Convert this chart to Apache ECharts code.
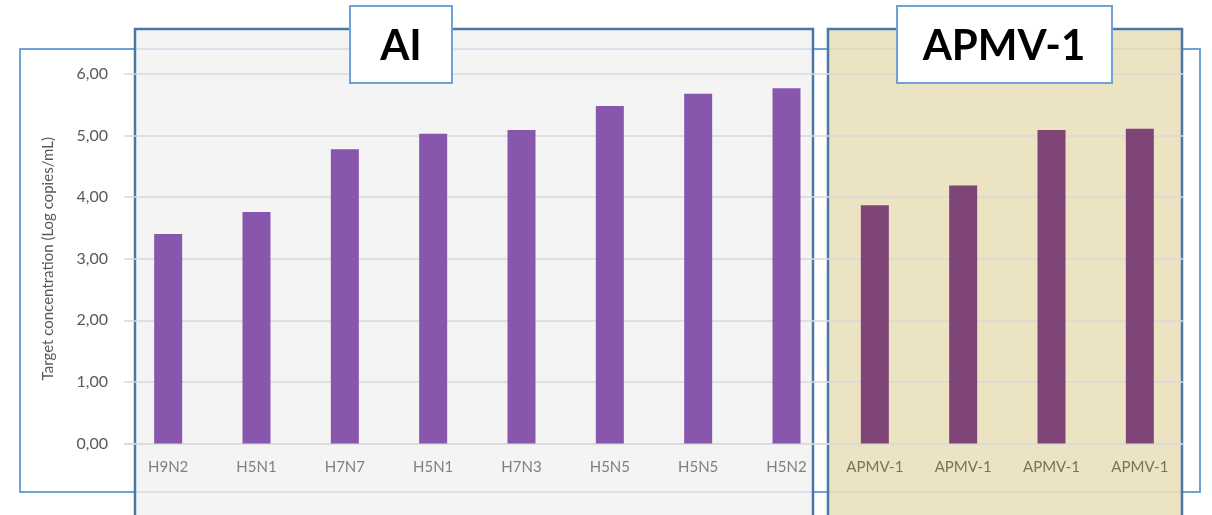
<!DOCTYPE html>
<html>
<head>
<meta charset="utf-8">
<script src="https://cdn.jsdelivr.net/npm/echarts@6/dist/echarts.min.js"></script>
<style>html,body{margin:0;padding:0;background:#fff}#c{width:1212px;height:515px}</style>
</head>
<body>
<div id="c"></div>
<script>
// Virus subtypes and measured target concentrations (log copies/mL)
const categories = ['H9N2','H5N1','H7N7','H5N1','H7N3','H5N5','H5N5','H5N2','APMV-1','APMV-1','APMV-1','APMV-1'];
const groups = ['AI','AI','AI','AI','AI','AI','AI','AI','APMV','APMV','APMV','APMV'];
const values = [3.40, 3.76, 4.78, 5.03, 5.09, 5.48, 5.68, 5.77, 3.87, 4.19, 5.09, 5.11];
const groupTitles = ['AI', 'APMV-1'];
const yTicks = { min: 0, max: 6, interval: 1 };

const barColor = { AI: '#8956AD', APMV: '#804577' };
const labelColor = { AI: '#808080', APMV: '#7C7257' };
const FONT = 'Lato, "Open Sans", sans-serif';

const chart = echarts.init(document.getElementById('c'), null, { renderer: 'canvas' });

const catData = categories.map((c, i) => ({ value: c, textStyle: { color: labelColor[groups[i]] } }));
const barData = values.map((v, i) => ({ value: v, itemStyle: { color: barColor[groups[i]] } }));

function box(x, y, w, h, fill, stroke, lw, z) {
  return { type: 'rect', z: z, silent: true, shape: { x: x, y: y, width: w, height: h },
           style: { fill: fill, stroke: stroke, lineWidth: lw } };
}
function title(text, cx, cy, z) {
  return { type: 'text', z: z, silent: true, x: cx, y: cy,
           style: { text: text, fill: '#000', font: 'bold 42px ' + FONT, align: 'center', verticalAlign: 'middle' } };
}

chart.setOption({
  animation: false,
  backgroundColor: '#fff',
  grid: { left: 124, right: 28, top: 74, bottom: 71.5, containLabel: false },
  xAxis: {
    type: 'category', data: catData,
    axisLine: { show: true, lineStyle: { color: '#D9D9D9', width: 1 } },
    axisTick: { show: false },
    axisLabel: { fontFamily: FONT, fontSize: 15, margin: 16 }
  },
  yAxis: {
    type: 'value', min: yTicks.min, max: yTicks.max, interval: yTicks.interval,
    name: 'Target concentration (Log copies/mL)', nameLocation: 'middle', nameGap: 68,
    nameTextStyle: { color: '#595959', fontFamily: FONT, fontSize: 15 },
    axisLine: { show: false }, axisTick: { show: false },
    axisLabel: { color: '#595959', fontFamily: FONT, fontSize: 16, margin: 16,
                 formatter: v => v.toFixed(2).replace('.', ',') },
    splitLine: { lineStyle: { color: '#D9D9D9', width: 1.5 } }
  },
  series: [{
    type: 'bar', data: barData, barWidth: 28, z: 5
  }],
  graphic: [
    box(20, 49, 1180, 443, 'rgba(0,0,0,0)', '#6FA3D8', 2, -3),
    box(135, 29, 678, 500, 'rgba(241,241,241,0.8)', '#4A78A6', 2.5, -2),
    box(828, 29, 354, 500, 'rgba(234,224,189,0.9)', '#4A78A6', 2.5, -2),
    box(350, 6, 102, 77, '#fff', '#6FA3D8', 2, 20),
    box(897, 6, 215, 77, '#fff', '#6FA3D8', 2, 20),
    title(groupTitles[0], 401, 46, 21),
    title(groupTitles[1], 1004, 46, 21)
  ]
});
</script>
</body>
</html>
